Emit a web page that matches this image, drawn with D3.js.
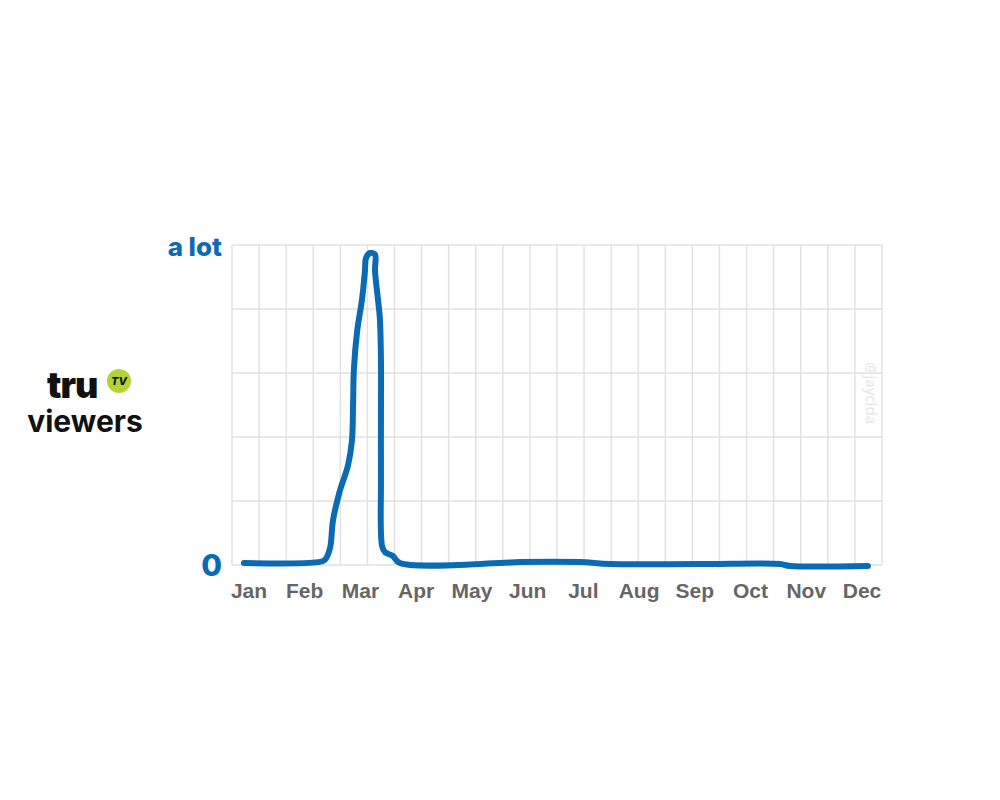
<!DOCTYPE html>
<html><head><meta charset="utf-8">
<script src="https://cdn.jsdelivr.net/npm/d3@7"></script>
<style>body{margin:0;background:#fff}</style></head>
<body><svg id="c" width="1000" height="800"></svg>
<script>
const months = ["Jan","Feb","Mar","Apr","May","Jun","Jul","Aug","Sep","Oct","Nov","Dec"];
const yTickLabels = ["0","a lot"];
const xs = [0.44,3.18,3.43,3.62,3.73,3.99,4.28,4.43,4.47,4.5,4.62,4.8,4.91,4.95,5.1,5.28,5.28,5.39,5.46,5.5,5.5,5.5,5.54,5.65,5.94,6.2,9.9,10.63,12.85,13.96,17.28,20.23,20.6,23.48];
const vals = [0.6,0.9,1.6,5.3,14,23.4,31,39,50,61,73,83,92,96,97.5,97,92,83,77,64,45,27,6,4,2.8,0.6,0.6,0.9,0.9,0.3,0.3,0.3,-0.3,-0.3];

const svg = d3.select("#c");
const x = d3.scaleLinear().domain([0,24]).range([232,882]);
const y = d3.scaleLinear().domain([0,100]).range([565,245]);
const g = svg.append("g");
g.selectAll(".v").data(d3.range(0,25)).join("line")
 .attr("x1",d=>x(d)).attr("x2",d=>x(d)).attr("y1",245).attr("y2",565)
 .attr("stroke","#e2e2e2").attr("stroke-width",1.5);
g.selectAll(".h").data(d3.range(0,101,20)).join("line")
 .attr("x1",232).attr("x2",882).attr("y1",d=>y(d)).attr("y2",d=>y(d))
 .attr("stroke","#e2e2e2").attr("stroke-width",1.5);

const mx = d3.scalePoint().domain(months).range([249,862]);
svg.selectAll(".m").data(months).join("text")
 .attr("x",d=>mx(d)).attr("y",598).attr("text-anchor","middle")
 .attr("font-family","Liberation Sans, Arial").attr("font-weight","bold")
 .attr("font-size",21).attr("fill","#666").text(d=>d);

svg.selectAll(".yl").data(yTickLabels).join("text")
 .attr("x",222).attr("y",(d,i)=>y(i*100)+11).attr("text-anchor","end")
 .attr("font-family","Inter, Noto Sans").attr("font-weight",800)
 .attr("font-size",(d,i)=>i?26:30).attr("fill","#0a6ab4").text(d=>d);

svg.append("text").attr("transform","translate(866,393) rotate(90)")
 .attr("text-anchor","middle").attr("font-family","Noto Sans").attr("font-size",15)
 .attr("fill","#e6e6e6").text("@jayclda");

svg.append("path").datum(xs.map((d,i)=>[d,vals[i]]))
 .attr("d", d3.line().x(d=>x(d[0])).y(d=>y(d[1])).curve(d3.curveCatmullRom.alpha(0.5)))
 .attr("fill","none").attr("stroke","#0a6ab4").attr("stroke-width",6)
 .attr("stroke-linejoin","round").attr("stroke-linecap","round");

// logo
svg.append("text").attr("x",47).attr("y",398).attr("font-family","Inter, Noto Sans")
 .attr("font-weight",900).attr("font-size",36).attr("letter-spacing",-1).attr("fill","#111").text("tru");
svg.append("circle").attr("cx",119).attr("cy",381).attr("r",12).attr("fill","#b5d334");
svg.append("text").attr("x",119).attr("y",385).attr("text-anchor","middle").attr("font-family","Inter")
 .attr("font-weight",800).attr("font-style","italic").attr("font-size",11).attr("fill","#111").text("TV");
svg.append("text").attr("x",85).attr("y",432).attr("text-anchor","middle").attr("font-family","Inter, Noto Sans")
 .attr("font-weight",700).attr("font-size",30).attr("fill","#111").text("viewers");
</script></body></html>
